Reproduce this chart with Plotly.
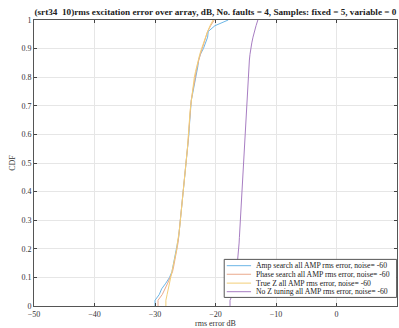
import plotly.graph_objects as go

amp_search = [-30.0, -29.3, -28.9, -28.2, -27.6, -27.2, -27.0, -26.8, -26.6, -26.4,
              -26.3, -26.1, -26.0, -25.9, -25.8, -25.7, -25.6, -25.5, -25.4, -25.3,
              -25.2, -25.1, -25.0, -24.9, -24.8, -24.7, -24.6, -24.55, -24.5, -24.4,
              -24.35, -24.3, -24.2, -24.15, -24.1, -24.0, -23.8, -23.6, -23.4, -23.3,
              -23.1, -22.9, -22.8, -22.5, -22.0, -21.7, -21.3, -21.2, -20.1, -17.9]
phase_search = [-29.5, -28.8, -28.3, -27.9, -27.5, -27.1, -26.9, -26.7, -26.5, -26.4,
                -26.2, -26.1, -26.0, -25.9, -25.8, -25.7, -25.6, -25.5, -25.4, -25.3,
                -25.2, -25.1, -25.0, -24.9, -24.8, -24.75, -24.7, -24.6, -24.5, -24.45,
                -24.4, -24.3, -24.25, -24.2, -24.1, -24.0, -23.9, -23.7, -23.5, -23.4,
                -23.2, -23.0, -22.8, -22.5, -22.2, -21.9, -21.6, -21.3, -20.8, -20.2]
true_z = [-28.2, -28.0, -27.8, -27.5, -27.3, -27.1, -26.9, -26.7, -26.6, -26.4,
          -26.3, -26.1, -26.0, -25.9, -25.8, -25.7, -25.6, -25.5, -25.4, -25.3,
          -25.2, -25.1, -25.0, -24.9, -24.85, -24.8, -24.7, -24.6, -24.55, -24.5,
          -24.4, -24.35, -24.3, -24.2, -24.1, -24.0, -23.9, -23.8, -23.6, -23.5,
          -23.3, -23.1, -22.9, -22.6, -22.3, -22.0, -21.7, -21.3, -20.9, -20.4]
no_z = [-17.6, -17.2, -16.9, -16.7, -16.6, -16.5, -16.4, -16.35, -16.3, -16.2,
        -16.1, -16.05, -16.0, -15.95, -15.9, -15.85, -15.8, -15.75, -15.7, -15.65,
        -15.6, -15.55, -15.5, -15.45, -15.4, -15.35, -15.3, -15.25, -15.2, -15.15,
        -15.1, -15.05, -15.0, -14.95, -14.9, -14.85, -14.8, -14.75, -14.7, -14.6,
        -14.5, -14.45, -14.4, -14.3, -14.2, -14.0, -13.8, -13.6, -13.3, -13.0]

series_names = [
    "Amp search all AMP rms error, noise= -60",
    "Phase search all AMP rms error, noise= -60",
    "True Z all AMP rms error, noise= -60",
    "No Z tuning all AMP rms error, noise= -60",
]
series_data = [amp_search, phase_search, true_z, no_z]
colors = ["#6cb6e6", "#eaa98c", "#f2cf78", "#a77dc2"]

title_text = "(srt34  10)rms excitation error over array, dB, No. faults = 4, Samples: fixed = 5, variable = 0"
x_ticks = [-50, -40, -30, -20, -10, 0, 10]
y_ticks = [0, 0.1, 0.2, 0.3, 0.4, 0.5, 0.6, 0.7, 0.8, 0.9, 1]

fig = go.Figure()
for name, data, col in zip(series_names, series_data, colors):
    xs = sorted(data)
    n = len(xs)
    x = [xs[0]] + xs
    y = [0.0] + [(i + 1) / n for i in range(n)]
    fig.add_trace(go.Scatter(x=x, y=y, mode="lines", name=name, showlegend=False,
                             line=dict(color=col, width=1)))

font_fam = "Liberation Serif, Times New Roman, serif"

# compact MATLAB-style legend box (paper coords relative to plot area)
lx0, lx1, ly0, ly1 = 0.524, 0.999, 0.030, 0.163
fig.add_shape(type="rect", xref="paper", yref="paper", x0=lx0, x1=lx1, y0=ly0, y1=ly1,
              line=dict(color="#555555", width=1), fillcolor="white", layer="above")
row_y = [0.141, 0.111, 0.080, 0.050]
for name, col, ry in zip(series_names, colors, row_y):
    fig.add_shape(type="line", xref="paper", yref="paper", x0=0.531, x1=0.598,
                  y0=ry, y1=ry, line=dict(color=col, width=1), layer="above")
    fig.add_annotation(xref="paper", yref="paper", x=0.607, y=ry, text=name,
                       showarrow=False, xanchor="left", yanchor="middle",
                       font=dict(family=font_fam, size=7.7, color="#222222"))

fig.update_layout(
    width=399, height=328,
    margin=dict(l=34, r=2, t=20, b=22),
    paper_bgcolor="white", plot_bgcolor="white",
    font=dict(family=font_fam, size=8, color="#333333"),
    title=dict(text="<b>" + title_text + "</b>", x=0.54, xanchor="center",
               y=0.963, yanchor="middle",
               font=dict(family=font_fam, size=9.2, color="#222222")),
    showlegend=False,
)
fig.update_xaxes(range=[-50, 10], tickvals=x_ticks, ticks="inside", ticklen=3,
                 showgrid=True, gridcolor="#e6e6e6", gridwidth=1,
                 showline=True, linecolor="#555555", linewidth=1, mirror="ticks",
                 zeroline=False, tickfont=dict(size=8),
                 title=dict(text="rms error dB", font=dict(size=8), standoff=2))
fig.update_yaxes(range=[0, 1], tickvals=y_ticks, ticks="inside", ticklen=3,
                 showgrid=True, gridcolor="#e6e6e6", gridwidth=1,
                 showline=True, linecolor="#555555", linewidth=1, mirror="ticks",
                 zeroline=False, tickfont=dict(size=8),
                 title=dict(text="CDF", font=dict(size=8), standoff=4))

fig.write_html("out.html")
